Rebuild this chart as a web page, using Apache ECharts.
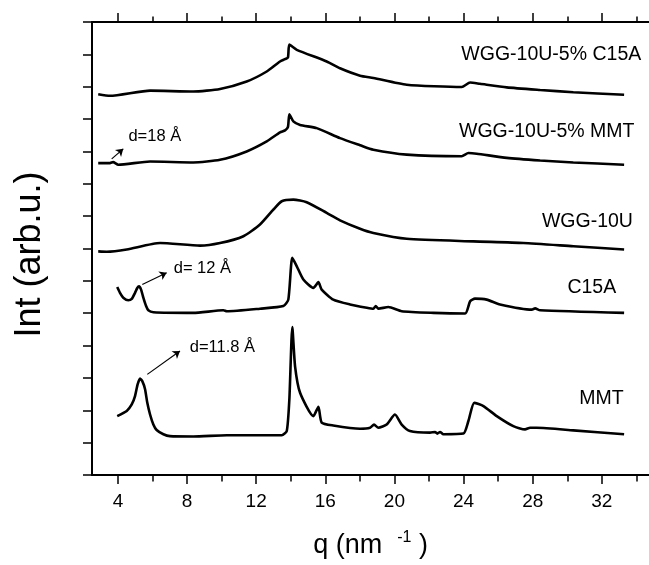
<!DOCTYPE html>
<html><head><meta charset="utf-8">
<script src="https://cdn.jsdelivr.net/npm/echarts@6/dist/echarts.min.js"></script>
<style>html,body{margin:0;padding:0;background:#fff}#c{width:649px;height:565px}</style>
</head><body><div id="c"></div>
<script>
// ---- data (q in nm^-1, intensity in arbitrary stacked units) ----
const qBlendC15A   = [2.86,3.54,5.86,8.36,9.91,11.45,12.61,13.38,13.67,13.84,13.92,14.35,16.08,16.85,18.01,18.78,20.71,23.89,24.38,24.95,26.5,28.43,30.35,33.29];
const intBlendC15A = [11.77,11.72,11.88,11.85,11.93,12.16,12.47,12.78,12.85,12.91,13.30,13.14,12.78,12.57,12.34,12.27,12.06,11.99,12.13,12.09,11.98,11.90,11.83,11.75];

const qBlendMMT   = [2.86,3.54,3.72,4.02,5.86,8.36,9.91,11.45,12.61,13.38,13.67,13.84,13.92,14.15,14.54,15.5,16.85,18.01,18.78,20.71,23.89,24.28,24.76,26.5,28.43,30.35,33.29];
const intBlendMMT = [9.64,9.64,9.67,9.59,9.69,9.66,9.74,10.0,10.31,10.59,10.65,10.76,11.15,10.93,10.82,10.72,10.41,10.19,10.05,9.90,9.85,9.95,9.93,9.80,9.72,9.66,9.59];

const qWGG   = [2.86,3.35,4.51,6.44,8.75,9.91,11.26,12.22,12.99,13.48,14.15,14.92,16.08,16.85,18.01,18.78,20.71,24.57,27.46,30.35,33.29];
const intWGG = [6.91,6.90,6.97,7.17,7.09,7.17,7.38,7.74,8.20,8.46,8.51,8.43,8.10,7.87,7.61,7.48,7.30,7.22,7.17,7.07,6.97];

const qC15A   = [3.96,4.12,4.31,4.60,4.80,4.99,5.12,5.22,5.34,5.47,5.63,5.76,6.05,8.36,10.1,10.3,12.22,13.57,13.86,14.09,14.35,14.73,15.31,15.6,15.79,16.46,17.43,18.4,18.78,18.92,19.07,19.65,20.42,22.25,24.09,24.38,24.66,25.34,26.11,27.95,28.14,28.43,33.29];
const intC15A = [5.81,5.63,5.48,5.40,5.44,5.63,5.78,5.83,5.73,5.48,5.22,5.09,5.03,5.01,5.09,5.06,5.14,5.22,5.42,6.71,6.45,6.04,5.78,5.96,5.73,5.42,5.27,5.17,5.14,5.22,5.14,5.19,5.06,5.01,4.99,5.37,5.45,5.42,5.27,5.11,5.15,5.09,5.01];

const qMMT   = [3.96,4.51,4.80,4.99,5.14,5.28,5.41,5.57,5.70,5.86,6.05,6.24,6.63,7.01,8.36,10.3,13.48,13.77,13.92,14.09,14.25,14.54,15.31,15.6,15.79,16.46,18.01,18.59,18.82,19.07,19.55,20.03,20.42,20.9,22.06,22.35,22.48,22.64,22.83,23.99,24.28,24.62,25.15,25.92,26.88,27.56,27.85,28.23,30.35,33.29];
const intMMT = [1.82,1.98,2.18,2.44,2.80,2.98,2.90,2.65,2.23,1.87,1.56,1.39,1.26,1.20,1.19,1.23,1.23,1.36,2.34,4.57,3.36,2.54,1.82,2.11,1.62,1.53,1.43,1.46,1.56,1.46,1.56,1.87,1.56,1.36,1.31,1.33,1.28,1.33,1.26,1.28,1.67,2.23,2.13,1.82,1.51,1.41,1.46,1.46,1.38,1.26];

const majorTicks = [4,8,12,16,20,24,28,32];
const minorTicks = [6,10,14,18,22,26,30,34];

const seriesNames   = ['WGG-10U-5% C15A','WGG-10U-5% MMT','WGG-10U','C15A','MMT'];
const nameLabelQ    = [34.31,33.92,33.83,32.86,33.29];
const nameLabelInt  = [12.98,10.62,7.84,5.78,2.37];

const dLabels   = ['d=18 Å','d= 12 Å','d=11.8 Å'];
const dLabelQ   = [4.58,7.2,8.13];
const dLabelInt = [10.45,6.37,3.93];
const arrowStartQ   = [3.64,5.41,5.70];
const arrowStartInt = [9.77,5.89,3.11];
const arrowEndQ     = [4.31,6.82,7.59];
const arrowEndInt   = [10.08,6.25,3.83];

// ---- build ----
const FONT = 'Liberation Sans, Arial, sans-serif';
const zip = (a,b) => a.map((v,i)=>[v,b[i]]);
const curves = [
  zip(qBlendC15A,intBlendC15A),
  zip(qBlendMMT,intBlendMMT),
  zip(qWGG,intWGG),
  zip(qC15A,intC15A),
  zip(qMMT,intMMT)
];
const gridBox = {left:92, top:22, right:0, height:454};
const X_MIN = 2.5, X_MAX = 34.73;

const lineSeries = curves.map((d,i)=>({
  type:'line', name:seriesNames[i], data:d, xAxisIndex:0, yAxisIndex:0,
  showSymbol:false, symbol:'none', smooth:0.2,
  lineStyle:{color:'#000', width:2.6}, silent:true
}));
lineSeries[0].markLine = {
  silent:true, animation:false,
  symbol:['none','arrow'], symbolSize:7,
  lineStyle:{color:'#000', width:1.2, type:'solid', opacity:1},
  itemStyle:{color:'#000'},
  label:{show:false},
  data: arrowStartQ.map((q,i)=>[{coord:[q,arrowStartInt[i]]},{coord:[arrowEndQ[i],arrowEndInt[i]]}])
};

const labelCommon = {show:true, distance:0, color:'#000', opacity:1, textBorderWidth:0, fontFamily:FONT};
const nameSeries = {
  type:'scatter', xAxisIndex:0, yAxisIndex:0, symbolSize:1, silent:true,
  itemStyle:{color:'#fff', opacity:0},
  data: nameLabelQ.map((q,i)=>({value:[q,nameLabelInt[i]], label:{formatter:seriesNames[i]}})),
  label:Object.assign({}, labelCommon, {position:'left', fontSize:19.5})
};
const dSeries = {
  type:'scatter', xAxisIndex:0, yAxisIndex:0, symbolSize:1, silent:true,
  itemStyle:{color:'#fff', opacity:0},
  data: dLabelQ.map((q,i)=>({value:[q,dLabelInt[i]], label:{formatter:dLabels[i]}})),
  label:Object.assign({}, labelCommon, {position:'right', fontSize:16.5})
};

const axisLineStyle = {color:'#000', width:2};
const option = {
  animation:false,
  backgroundColor:'#fff',
  grid:[Object.assign({}, gridBox), Object.assign({}, gridBox)],
  xAxis:[
    { gridIndex:0, type:'value', position:'bottom', min:X_MIN, max:X_MAX,
      axisLine:{show:true, onZero:false, lineStyle:axisLineStyle},
      axisTick:{show:true, inside:false, length:9, customValues:majorTicks, lineStyle:{color:'#000', width:1.5}},
      axisLabel:{show:true, customValues:majorTicks, margin:17, color:'#000', fontSize:19, fontFamily:FONT},
      splitLine:{show:false},
      name:'{a|q (nm  }{s|-1}{a| )}', nameLocation:'middle', nameGap:55,
      nameTextStyle:{rich:{a:{fontSize:27, fontFamily:FONT, color:'#000', lineHeight:32}, s:{fontSize:16, fontFamily:FONT, color:'#000', verticalAlign:'top', lineHeight:32, padding:[0,0,14,0]}}}
    },
    { gridIndex:0, type:'value', position:'top', min:X_MIN, max:X_MAX,
      axisLine:{show:true, onZero:false, lineStyle:axisLineStyle},
      axisTick:{show:true, inside:false, length:9, customValues:majorTicks, lineStyle:{color:'#000', width:1.5}},
      axisLabel:{show:false}, splitLine:{show:false}
    },
    { gridIndex:1, type:'value', position:'bottom', min:X_MIN, max:X_MAX,
      axisLine:{show:false, onZero:false},
      axisTick:{show:true, inside:false, length:5.5, customValues:minorTicks, lineStyle:{color:'#000', width:1.5}},
      axisLabel:{show:false}, splitLine:{show:false}
    },
    { gridIndex:1, type:'value', position:'top', min:X_MIN, max:X_MAX,
      axisLine:{show:false, onZero:false},
      axisTick:{show:true, inside:false, length:5.5, customValues:minorTicks, lineStyle:{color:'#000', width:1.5}},
      axisLabel:{show:false}, splitLine:{show:false}
    }
  ],
  yAxis:[
    { gridIndex:0, type:'value', position:'left', min:0, max:14, interval:1,
      axisLine:{show:true, onZero:false, lineStyle:axisLineStyle},
      axisTick:{show:true, inside:false, length:9, lineStyle:{color:'#000', width:1.5}},
      axisLabel:{show:false}, splitLine:{show:false},
      name:'Int (arb.u.)', nameLocation:'middle', nameGap:44,
      nameTextStyle:{fontSize:36, fontFamily:FONT, color:'#000', padding:[0,12,0,0]}
    },
    { gridIndex:1, type:'value', min:0, max:14, show:false }
  ],
  series: lineSeries.concat([nameSeries, dSeries])
};
const chart = echarts.init(document.getElementById('c'), null, {renderer:'canvas'});
chart.setOption(option);
</script>
</body></html>
